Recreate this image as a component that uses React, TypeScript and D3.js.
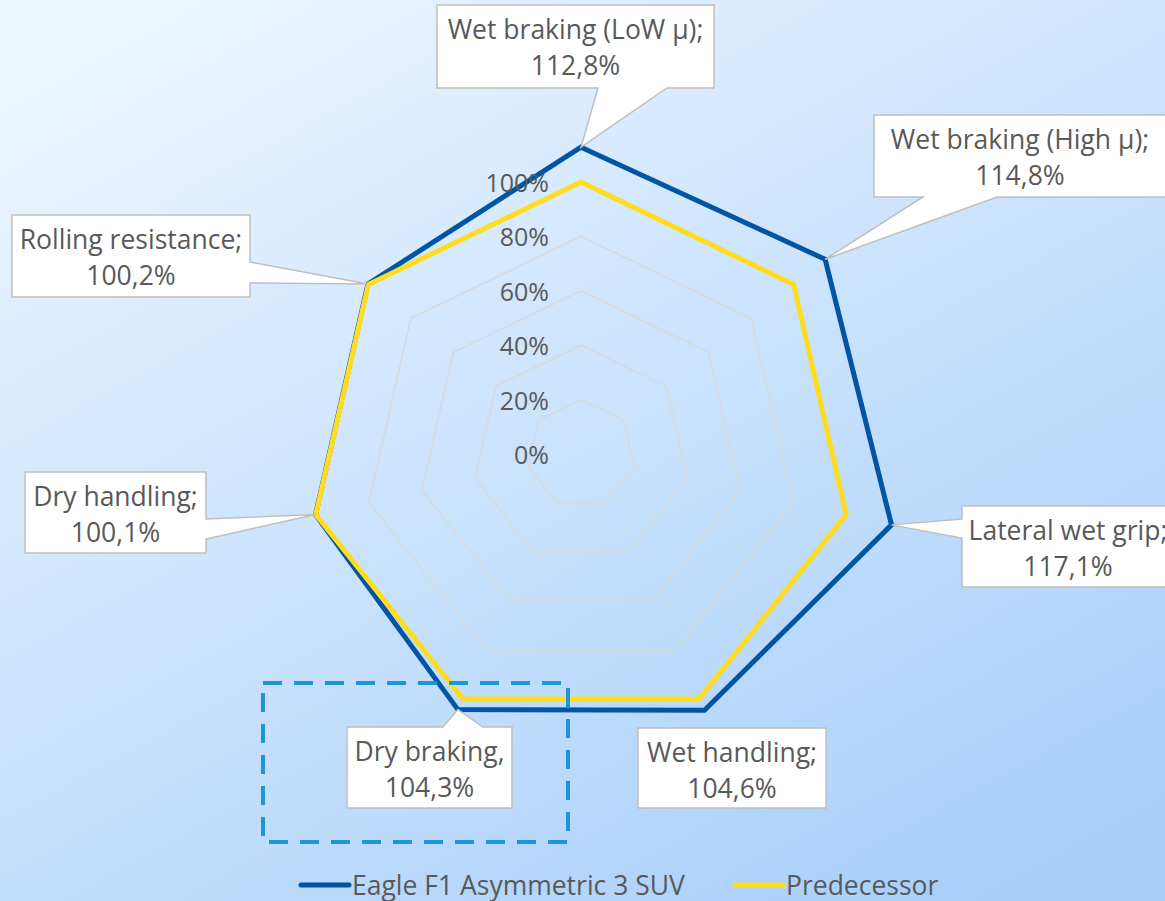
import React, { useEffect } from "react"
import * as d3 from "d3"

// axes, clockwise from the top
const axes = [
  "Wet braking (LoW μ)",
  "Wet braking (High μ)",
  "Lateral wet grip",
  "Wet handling",
  "Dry braking",
  "Dry handling",
  "Rolling resistance",
]
const labelSeparators = [";", ";", ";", ";", ",", ";", ";"]
const eagle = [112.8, 114.8, 117.1, 104.6, 104.3, 100.1, 100.2]
const predecessor = [100, 100, 100, 100, 100, 100, 100]
const gridTicks = [0, 20, 40, 60, 80, 100]
const seriesNames = ["Eagle F1 Asymmetric 3 SUV", "Predecessor"]
const seriesColors = ["#0055a4", "#ffdc1e"]

// callout boxes (layout only) – wedge side and its base along that edge
const callouts = [
  { x: 437, y: 5, w: 277, h: 83, side: "bottom", a: 598, b: 667 },
  { x: 874, y: 115, w: 292, h: 82, side: "bottom", a: 923, b: 997 },
  { x: 962, y: 506, w: 212, h: 81, side: "left", a: 519, b: 538 },
  { x: 638, y: 728, w: 188, h: 80, side: "none", a: 0, b: 0 },
  { x: 347, y: 727, w: 165, h: 81, side: "top", a: 443, b: 483 },
  { x: 25, y: 472, w: 181, h: 81, side: "right", a: 519, b: 539 },
  { x: 12, y: 215, w: 238, h: 82, side: "right", a: 262, b: 283 },
]

const W = 1165
const H = 901
const cx = 581
const cy = 454
const FONT = "'Open Sans', Lato, sans-serif"
const TEXT = "#595959"
const FS = 26.5
const TICK_FS = 25

function calloutPath(c: any, tip: [number, number]) {
  const { x, y, w, h, side, a, b } = c
  const p: [number, number][] = [[x, y]]
  if (side === "top") p.push([a, y], tip, [b, y])
  p.push([x + w, y])
  if (side === "right") p.push([x + w, a], tip, [x + w, b])
  p.push([x + w, y + h])
  if (side === "bottom") p.push([b, y + h], tip, [a, y + h])
  p.push([x, y + h])
  if (side === "left") p.push([x, b], tip, [x, a])
  return "M" + p.map((d) => d.join(",")).join("L") + "Z"
}

export default function App() {
  useEffect(() => {
    document.body.style.margin = "0"
  }, [])

  const r = d3.scaleLinear().domain([0, 100]).range([0, 272])
  const angle = (i: number) => (i * 2 * Math.PI) / axes.length
  const point = (i: number, v: number): [number, number] => [
    cx + r(v) * Math.sin(angle(i)),
    cy - r(v) * Math.cos(angle(i)),
  ]

  const radar = d3
    .lineRadial<number>()
    .angle((_, i) => angle(i))
    .radius((d) => r(d))
    .curve(d3.curveLinearClosed)

  const fmt = (v: number) => d3.format(".1f")(v).replace(".", ",") + "%"

  return (
    <svg width={W} height={H} style={{ display: "block" }} fontFamily={FONT}>
      <defs>
        <linearGradient id="bg" x1="0.15" y1="0" x2="0.85" y2="1">
          <stop offset="0" stopColor="#ebf5ff" />
          <stop offset="1" stopColor="#a8cffa" />
        </linearGradient>
      </defs>
      <rect width={W} height={H} fill="url(#bg)" />

      <g transform={`translate(${cx},${cy})`}>
        {gridTicks
          .filter((t) => t > 0)
          .map((t) => (
            <path
              key={t}
              d={radar(axes.map(() => t)) as string}
              fill="none"
              stroke="#d9d9d9"
              strokeWidth={1.5}
            />
          ))}
        <path d={radar(eagle) as string} fill="none" stroke={seriesColors[0]} strokeWidth={5} strokeLinejoin="miter" />
        <path d={radar(predecessor) as string} fill="none" stroke={seriesColors[1]} strokeWidth={5} strokeLinejoin="miter" />
      </g>

      {gridTicks.map((t) => (
        <text
          key={t}
          x={549}
          y={cy - r(t)}
          textAnchor="end"
          dominantBaseline="central"
          fontSize={TICK_FS}
          fill={TEXT}
        >
          {t}%
        </text>
      ))}

      {callouts.map((c, i) => {
        const tip = point(i, eagle[i])
        const tx = c.x + c.w / 2
        return (
          <g key={i}>
            <path d={calloutPath(c, tip)} fill="#ffffff" stroke="#bfbfbf" strokeWidth={1.5} />
            <text x={tx} y={c.y + 24} textAnchor="middle" dominantBaseline="central" fontSize={FS} fill={TEXT}>
              {axes[i] + labelSeparators[i]}
            </text>
            <text x={tx} y={c.y + 60} textAnchor="middle" dominantBaseline="central" fontSize={FS} fill={TEXT}>
              {fmt(eagle[i])}
            </text>
          </g>
        )
      })}

      <rect
        x={263}
        y={683}
        width={305}
        height={159}
        fill="none"
        stroke="#1e96d6"
        strokeWidth={4}
        strokeDasharray="19 12"
      />

      {seriesNames.map((name, i) => {
        const x0 = i === 0 ? 301 : 735
        return (
          <g key={name}>
            <line x1={x0} x2={x0 + 48} y1={885} y2={885} stroke={seriesColors[i]} strokeWidth={5} strokeLinecap="round" />
            <text x={x0 + 51} y={885} dominantBaseline="central" fontSize={FS} fill={TEXT}>
              {name}
            </text>
          </g>
        )
      })}
    </svg>
  )
}
